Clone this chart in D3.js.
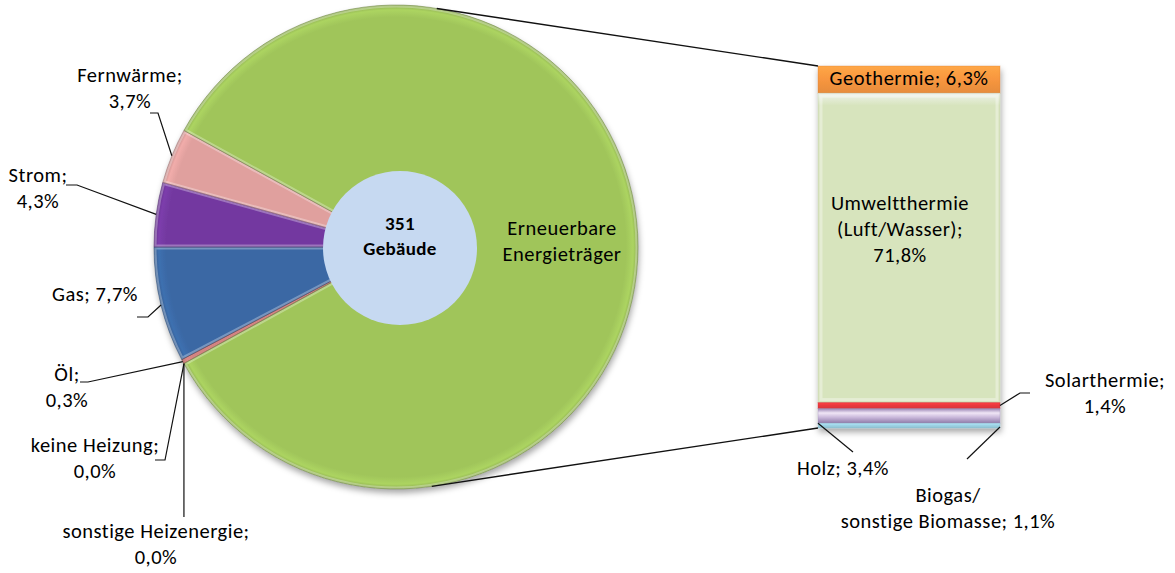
<!DOCTYPE html>
<html><head><meta charset="utf-8">
<script src="https://cdn.jsdelivr.net/npm/d3@7"></script>
<style>
html,body{margin:0;padding:0;background:#fff;}
svg{display:block;}
text{font-family:Carlito,Lato,"Open Sans",sans-serif;fill:#000;}
</style></head>
<body><svg id="c" width="1175" height="573"></svg>
<script>
// ---- data ----
const pieCategories = ["sonstige Heizenergie","keine Heizung","Öl","Gas","Strom","Fernwärme","Erneuerbare Energieträger"];
const pieValues     = [0.0, 0.0, 0.3, 7.7, 4.3, 3.7, 84.0];
const pieLabels     = [["sonstige Heizenergie;","0,0%"],["keine Heizung;","0,0%"],["Öl;","0,3%"],["Gas; 7,7%"],["Strom;","4,3%"],["Fernwärme;","3,7%"],["Erneuerbare","Energieträger"]];
const pieColors     = ["#8064a2","#4bacc6","#c0504d","#3a68a4","#7339a0","#e0a09e","#a0c55a"];

const barCategories = ["Geothermie","Umweltthermie (Luft/Wasser)","Solarthermie","Holz","Biogas/ sonstige Biomasse"];
const barValues     = [6.3, 71.8, 1.4, 3.4, 1.1];
const barLabels     = [["Geothermie; 6,3%"],["Umweltthermie","(Luft/Wasser);","71,8%"],["Solarthermie;","1,4%"],["Holz; 3,4%"],["Biogas/","sonstige Biomasse; 1,1%"]];
const barColors     = ["#f7963f","#d7e4bd","#e8383d","#b6a5cc","#9bd0e2"];

const centerText = ["351","Gebäude"];

// ---- layout ----
const FS = 20.5, LS = 0.5;
const svg = d3.select("#c");
const defs = svg.append("defs");
const cx = 396, cy = 247, R = 242;
const deg = Math.PI/180;
const smallTotal = d3.sum(pieValues.slice(0,6));
const startA = (270 - smallTotal*3.6/2)*deg;

function txt(sel, x, yy, t, size){
  return sel.append("text").attr("x",x).attr("y",yy).attr("text-anchor","middle")
    .attr("dominant-baseline","middle").attr("font-size",size||FS).attr("letter-spacing",LS).text(t);
}

defs.append("filter").attr("id","sh").attr("x","-20%").attr("y","-20%").attr("width","140%").attr("height","140%")
  .append("feDropShadow").attr("dx",1).attr("dy",4).attr("stdDeviation",3).attr("flood-color","#000").attr("flood-opacity",0.35);

const pie = d3.pie().sort(null).value(d=>d).startAngle(startA).endAngle(startA+2*Math.PI);
const arcs = pie(pieValues);
const arc = d3.arc().innerRadius(0).outerRadius(R);

const g = svg.append("g").attr("transform",`translate(${cx},${cy})`);
const gs = g.append("g").attr("filter","url(#sh)");

arcs.forEach((a,i)=>{
  if (a.value<=0) return;
  const id = "clip"+i;
  defs.append("clipPath").attr("id",id).append("path").attr("d",arc(a));
  const gid="rg"+i;
  const c = d3.color(pieColors[i]);
  const rg = defs.append("radialGradient").attr("id",gid).attr("gradientUnits","userSpaceOnUse")
     .attr("cx",0).attr("cy",0).attr("r",R);
  rg.append("stop").attr("offset","0%").attr("stop-color",c.formatHex());
  rg.append("stop").attr("offset","95%").attr("stop-color",c.formatHex());
  rg.append("stop").attr("offset","98%").attr("stop-color",c.brighter(0.2).formatHex());
  rg.append("stop").attr("offset","100%").attr("stop-color",c.darker(0.4).formatHex());
  gs.append("path").attr("d",arc(a)).attr("fill",`url(#${gid})`);
  g.append("path").attr("d",arc(a)).attr("fill","none").attr("stroke","#fff").attr("stroke-opacity",0.3)
    .attr("stroke-width",5).attr("clip-path",`url(#${id})`);
  g.append("path").attr("d",arc(a)).attr("fill","none").attr("stroke",c.darker(1.2).formatHex()).attr("stroke-opacity",0.5)
    .attr("stroke-width",1);
});

// center hole
g.append("circle").attr("cx",4).attr("cy",1).attr("r",77).attr("fill","#c6d9f1");
centerText.forEach((t,i)=>{
  txt(g, 4, -22+i*25, t, 19).attr("font-weight","bold").attr("letter-spacing",0.3);
});

// renewable label inside
const big = arcs[6];
const midBig = (big.startAngle+big.endAngle)/2;
const lr = 166;
pieLabels[6].forEach((t,i)=>{
  txt(g, lr*Math.sin(midBig), -lr*Math.cos(midBig)-17+i*26, t);
});

// outside labels for small slices
const labelPos = [
  {x:156,y:533, vertical:true, ly:517},
  {x:95, y:447, tick:[155,165,460]},
  {x:67, y:376, tick:[80,88,382]},
  {x:95, y:296, tick:[137,148,317]},
  {x:38, y:177, tick:[66,77,185]},
  {x:130,y:77,  tick:[150,158,113]}
];
const lg = svg.append("g");
arcs.slice(0,6).forEach((a,i)=>{
  const p = labelPos[i];
  const m = (a.startAngle+a.endAngle)/2;
  const px = cx + R*Math.sin(m), py = cy - R*Math.cos(m);
  pieLabels[i].forEach((t,j)=> txt(lg, p.x, p.y+j*26, t));
  let pts;
  if (p.vertical) pts = [[px,py],[px,p.ly]];
  else pts = [[p.tick[0],p.tick[2]],[p.tick[1],p.tick[2]],[px,py]];
  lg.append("path").attr("d",d3.line()(pts)).attr("fill","none").attr("stroke","#111").attr("stroke-width",1.2);
});

// ---- bar of pie ----
const bx0 = 818, bx1 = 1000, by0 = 66, by1 = 428;
const y = d3.scaleLinear().domain([0,d3.sum(barValues)]).range([by0,by1]);
const stack = d3.cumsum([0,...barValues]);
const bg = svg.append("g").attr("filter","url(#sh)");
barValues.forEach((v,i)=>{
  const c = d3.color(barColors[i]);
  const gid="lg"+i;
  const lgd = defs.append("linearGradient").attr("id",gid).attr("x1",0).attr("y1",0).attr("x2",0).attr("y2",1);
  if (i===1){
    lgd.append("stop").attr("offset","0%").attr("stop-color","#eef2ea");
    lgd.append("stop").attr("offset","4%").attr("stop-color",c.formatHex());
    lgd.append("stop").attr("offset","100%").attr("stop-color",c.formatHex());
  } else if (i===3){
    lgd.append("stop").attr("offset","0%").attr("stop-color","#9a86b4");
    lgd.append("stop").attr("offset","30%").attr("stop-color","#f0e6f6");
    lgd.append("stop").attr("offset","60%").attr("stop-color","#c9b8da");
    lgd.append("stop").attr("offset","100%").attr("stop-color","#8e79a8");
  } else {
    lgd.append("stop").attr("offset","0%").attr("stop-color",c.brighter(0.3).formatHex());
    lgd.append("stop").attr("offset","50%").attr("stop-color",c.formatHex());
    lgd.append("stop").attr("offset","100%").attr("stop-color",c.darker(0.2).formatHex());
  }
  bg.append("rect").attr("x",bx0).attr("y",y(stack[i])).attr("width",bx1-bx0)
    .attr("height",y(stack[i+1])-y(stack[i])).attr("fill",`url(#${gid})`)
    .attr("stroke",c.darker(0.4).formatHex()).attr("stroke-opacity",0.35).attr("stroke-width",1);
});
svg.append("rect").attr("x",bx0+3).attr("y",y(stack[1])+3).attr("width",bx1-bx0-6)
  .attr("height",y(stack[2])-y(stack[1])-6).attr("fill","none").attr("stroke","#fff").attr("stroke-opacity",0.35).attr("stroke-width",3);

// bar labels
const bl = svg.append("g");
const barMid = (bx0+bx1)/2;
txt(bl, barMid, (y(stack[0])+y(stack[1]))/2+1, barLabels[0][0]);
barLabels[1].forEach((t,j)=> txt(bl, barMid-9, 205+j*26, t));
const ySol = (y(stack[2])+y(stack[3]))/2;
barLabels[2].forEach((t,j)=> txt(bl, 1105, 382+j*26, t));
bl.append("path").attr("d",d3.line()([[bx1,ySol],[1020,393],[1030,393]])).attr("fill","none").attr("stroke","#111").attr("stroke-width",1.2);
txt(bl, 843, 470, barLabels[3][0]);
bl.append("path").attr("d",d3.line()([[bx0,y(stack[4])],[853,452]])).attr("fill","none").attr("stroke","#111").attr("stroke-width",1.2);
barLabels[4].forEach((t,j)=> txt(bl, 948, 497+j*26, t));
bl.append("path").attr("d",d3.line()([[bx1,y(stack[5])-1],[967,459]])).attr("fill","none").attr("stroke","#111").attr("stroke-width",1.2);

// connector lines pie -> bar
const connAngles = [9.7, 171.5];
[[connAngles[0],by0],[connAngles[1],by1]].forEach(([a,yy])=>{
  const px = cx + R*Math.sin(a*deg), py = cy - R*Math.cos(a*deg);
  svg.append("line").attr("x1",px).attr("y1",py).attr("x2",bx0).attr("y2",yy)
    .attr("stroke","#111").attr("stroke-width",1.4);
});
</script></body></html>
